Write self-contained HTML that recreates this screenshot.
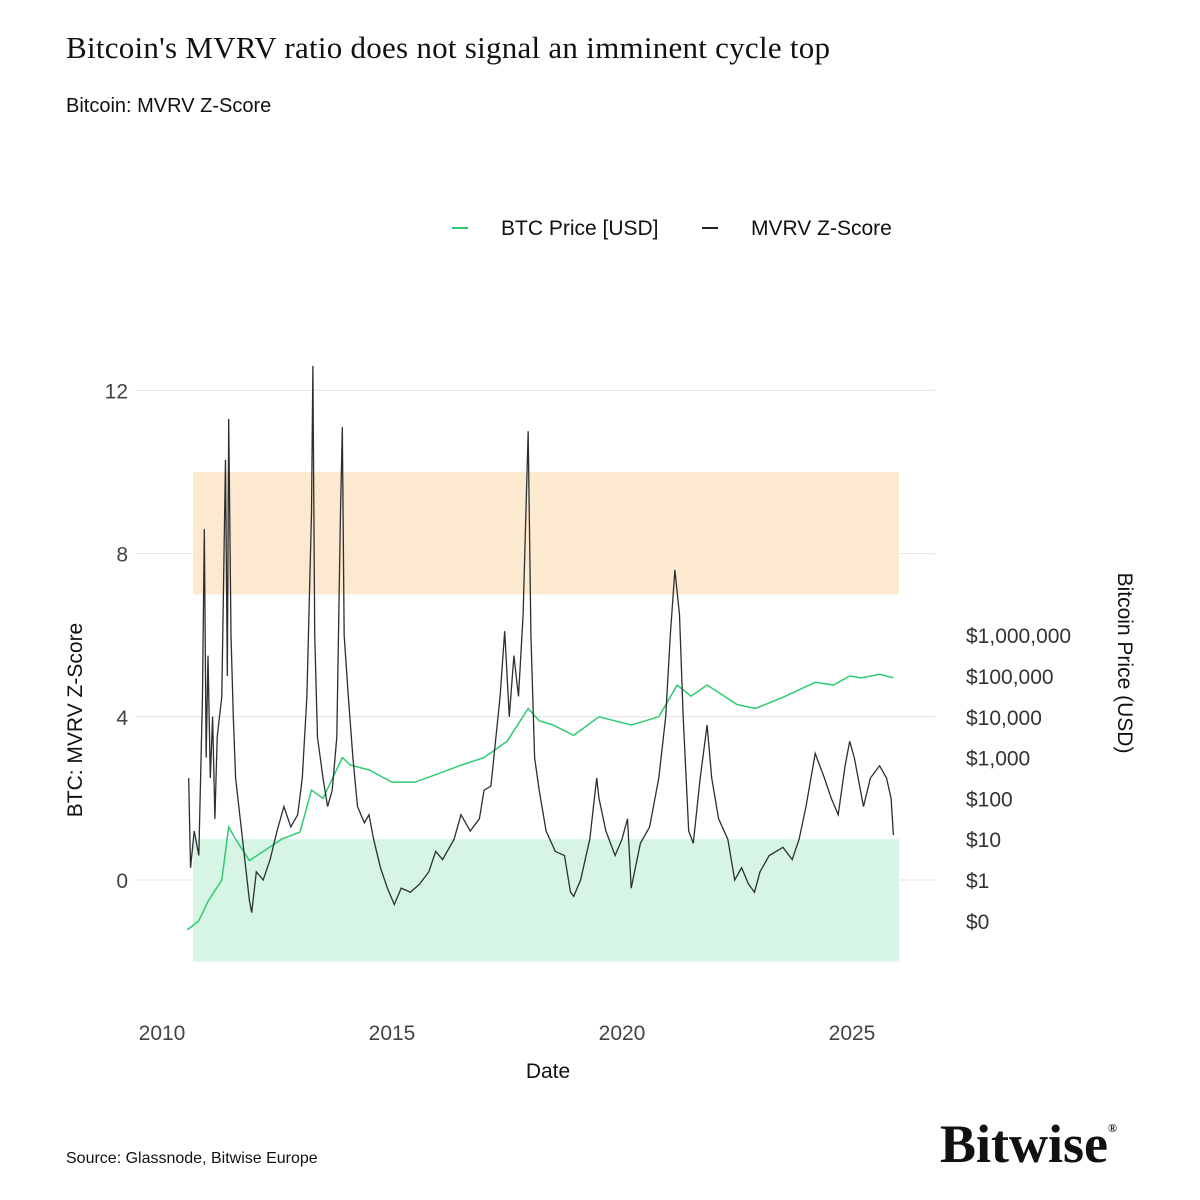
<!DOCTYPE html>
<html><head><meta charset="utf-8"><style>
body{margin:0;background:#fff;width:1200px;height:1200px;overflow:hidden}
svg{display:block}
</style></head><body>
<svg id="chart" width="1200" height="1200" viewBox="0 0 1200 1200">
<text x="66" y="58" textLength="764" font-family="Liberation Serif, serif" font-size="31" fill="#111">Bitcoin's MVRV ratio does not signal an imminent cycle top</text>
<text x="66" y="112" font-family="Liberation Sans, sans-serif" font-size="20" fill="#111">Bitcoin: MVRV Z-Score</text>
<g font-family="Liberation Sans, sans-serif" font-size="21" fill="#111">
<line x1="452" y1="228" x2="468" y2="228" stroke="#2ecc71" stroke-width="2"/>
<text x="501" y="235">BTC Price [USD]</text>
<line x1="702" y1="228" x2="718" y2="228" stroke="#222" stroke-width="2"/>
<text x="751" y="235">MVRV Z-Score</text>
</g>
<g id="grid"></g><g id="bands"></g><g id="axes"></g><g id="series"></g>
<text transform="translate(82,720) rotate(-90)" text-anchor="middle" font-family="Liberation Sans, sans-serif" font-size="21" fill="#111">BTC: MVRV Z-Score</text>
<text transform="translate(1118,663) rotate(90)" text-anchor="middle" font-family="Liberation Sans, sans-serif" font-size="21" fill="#111">Bitcoin Price (USD)</text>
<text x="548" y="1078" text-anchor="middle" font-family="Liberation Sans, sans-serif" font-size="21" fill="#111">Date</text>
<text x="66" y="1163" font-family="Liberation Sans, sans-serif" font-size="16" fill="#111">Source: Glassnode, Bitwise Europe</text>
<text x="940" y="1162" font-family="Liberation Serif, serif" font-size="54" font-weight="bold" fill="#111">Bitwise<tspan font-size="12" dy="-30">®</tspan></text>
</svg>
<script>
const zTicks=[0,4,8,12];
const priceTickLabels=["$0","$1","$10","$100","$1,000","$10,000","$100,000","$1,000,000"];
const priceTickLogs=[-1,0,1,2,3,4,5,6];
const xTicks=[2010,2015,2020,2025];
const bandHigh=[7,10];
const bandLow=[-2,1];
const mvrvDates=[2010.58,2010.62,2010.7,2010.8,2010.88,2010.92,2010.96,2011.0,2011.05,2011.1,2011.15,2011.2,2011.3,2011.38,2011.42,2011.45,2011.5,2011.55,2011.6,2011.7,2011.8,2011.9,2011.95,2012.05,2012.2,2012.35,2012.5,2012.65,2012.8,2012.95,2013.05,2013.15,2013.25,2013.28,2013.32,2013.38,2013.5,2013.6,2013.7,2013.8,2013.88,2013.92,2013.96,2014.05,2014.15,2014.25,2014.4,2014.5,2014.6,2014.75,2014.9,2015.05,2015.2,2015.4,2015.6,2015.8,2015.95,2016.1,2016.35,2016.5,2016.7,2016.9,2017.0,2017.15,2017.35,2017.45,2017.55,2017.65,2017.75,2017.85,2017.96,2018.02,2018.1,2018.2,2018.35,2018.55,2018.75,2018.88,2018.95,2019.1,2019.3,2019.45,2019.5,2019.65,2019.85,2020.0,2020.12,2020.2,2020.4,2020.6,2020.8,2020.95,2021.05,2021.15,2021.25,2021.33,2021.45,2021.55,2021.7,2021.85,2021.95,2022.1,2022.3,2022.45,2022.6,2022.75,2022.88,2023.0,2023.2,2023.5,2023.7,2023.85,2024.0,2024.2,2024.4,2024.55,2024.7,2024.85,2024.95,2025.05,2025.25,2025.4,2025.6,2025.75,2025.85,2025.9];
const mvrvValues=[2.5,0.3,1.2,0.6,4.5,8.6,3,5.5,2.5,4,1.5,3.5,4.5,10.3,5,11.3,6,4,2.5,1.5,0.5,-0.5,-0.8,0.2,0,0.5,1.2,1.8,1.3,1.6,2.5,4.5,9,12.6,6,3.5,2.5,1.8,2.2,3.5,9,11.1,6,4.5,3,1.8,1.4,1.6,1.0,0.3,-0.2,-0.6,-0.2,-0.3,-0.1,0.2,0.7,0.5,1.0,1.6,1.2,1.5,2.2,2.3,4.5,6.1,4,5.5,4.5,6.5,11,6,3.0,2.2,1.2,0.7,0.6,-0.3,-0.4,0,1.0,2.5,2.0,1.2,0.6,1.0,1.5,-0.2,0.9,1.3,2.5,4,6,7.6,6.5,4,1.2,0.9,2.5,3.8,2.5,1.5,1.0,0,0.3,-0.1,-0.3,0.2,0.6,0.8,0.5,1.0,1.8,3.1,2.5,2.0,1.6,2.8,3.4,3.0,1.8,2.5,2.8,2.5,2.0,1.1];
const priceDates=[2010.55,2010.8,2011.0,2011.3,2011.45,2011.6,2011.9,2012.2,2012.6,2013.0,2013.25,2013.5,2013.92,2014.1,2014.5,2015.0,2015.5,2016.0,2016.5,2017.0,2017.5,2017.96,2018.2,2018.5,2018.95,2019.5,2020.2,2020.8,2021.2,2021.5,2021.85,2022.5,2022.9,2023.5,2024.2,2024.6,2024.95,2025.2,2025.6,2025.9];
const priceUSD=[0.06,0.1,0.3,1,20,10,3,5,10,15,160,100,1000,650,500,250,250,400,650,1000,2500,16000,8000,6300,3500,10000,6300,10000,60000,32000,60000,20000,16000,30000,70000,60000,100000,90000,110000,90000];

const NS="http://www.w3.org/2000/svg";
const X=y=>162+(y-2010)*46;
const Y=z=>880-z*40.8;
const YP=p=>880-Math.log10(p)*40.8;
function mk(tag,attrs,parent){const e=document.createElementNS(NS,tag);for(const k in attrs)e.setAttribute(k,attrs[k]);parent.appendChild(e);return e;}
const grid=document.getElementById('grid'),bands=document.getElementById('bands'),axes=document.getElementById('axes'),series=document.getElementById('series');
zTicks.forEach(t=>{
 const l=mk('line',{x1:135,x2:935,y1:Y(t),y2:Y(t),stroke:'#e2e2e2','stroke-width':1},grid);
 
 
 const tx=mk('text',{x:128,y:Y(t)+8,'text-anchor':'end','font-family':'Liberation Sans, sans-serif','font-size':21,fill:'#444'},axes);
 tx.textContent=t;
 
 
});
const bx0=193,bx1=899;
const bh=mk('rect',{x:bx0,width:bx1-bx0,y:Y(bandHigh[1]),height:Y(bandHigh[0])-Y(bandHigh[1]),fill:'#fde9cf'},bands);


const bl=mk('rect',{x:bx0,width:bx1-bx0,y:Y(bandLow[1]),height:Y(bandLow[0])-Y(bandLow[1]),fill:'#d6f5e4'},bands);


priceTickLabels.forEach((s,i)=>{
 const tx=mk('text',{x:966,y:Y(priceTickLogs[i])+8,'font-family':'Liberation Sans, sans-serif','font-size':21,fill:'#333'},axes);
 tx.textContent=s;
 
 
});
xTicks.forEach(t=>{
 const tx=mk('text',{x:X(t),y:1040,'text-anchor':'middle','font-family':'Liberation Sans, sans-serif','font-size':21,fill:'#444'},axes);
 tx.textContent=t;
 
 
});
const pp=mk('polyline',{points:priceDates.map((d,i)=>X(d)+','+YP(priceUSD[i])).join(' '),fill:'none',stroke:'#2ecc71','stroke-width':1.5},series);


const mp=mk('polyline',{points:mvrvDates.map((d,i)=>X(d)+','+Y(mvrvValues[i])).join(' '),fill:'none',stroke:'#2b2f33','stroke-width':1.3},series);


</script>
</body></html>
